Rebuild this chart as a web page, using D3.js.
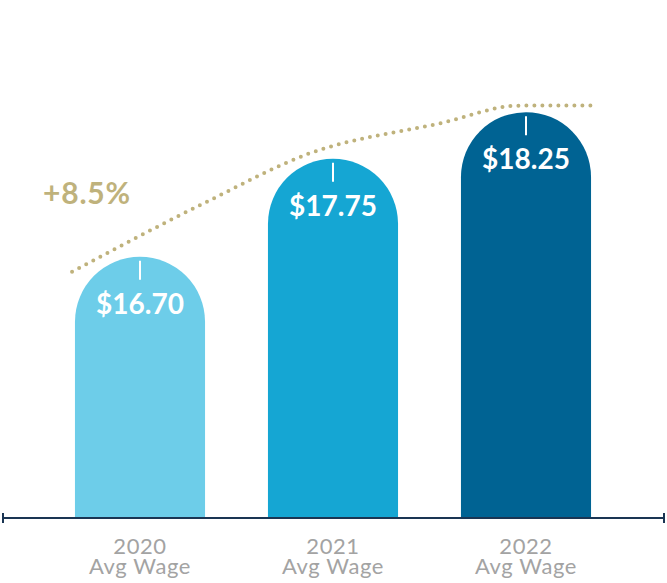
<!DOCTYPE html>
<html>
<head>
<meta charset="utf-8">
<script src="https://cdn.jsdelivr.net/npm/d3@7"></script>
<style>
  html, body { margin: 0; padding: 0; background: #fff; }
  svg { display: block; }
</style>
</head>
<body>
<svg id="chart" width="667" height="583"></svg>
<script>
// chart data
var years = ["2020", "2021", "2022"];
var wages = [16.70, 17.75, 18.25];
var barColors = ["#6dcde9", "#15a6d3", "#006393"];
var subLabel = "Avg Wage";
var growthLabel = "+8.5%";
// dotted trend line: position in category units, value in $
var trendPos = [-0.352, 0.337, 0.881, 1.554, 1.969, 2.347];
var trendVal = [16.54, 17.28, 17.81, 18.13, 18.32, 18.32];

var svg = d3.select("#chart"),
    width = +svg.attr("width"),
    height = +svg.attr("height"),
    baseY = 518;

var x = d3.scaleBand()
  .domain(years)
  .range([43.5, 622.5])
  .paddingInner(0.326)
  .paddingOuter(0.163);

// index -> centre of band
var xPos = d3.scaleLinear()
  .domain([0, 2])
  .range([x(years[0]) + x.bandwidth() / 2, x(years[2]) + x.bandwidth() / 2]);

var y = d3.scaleLinear()
  .domain([13.9, 19])
  .range([baseY, baseY - 5.1 * 93.3]);

var r = x.bandwidth() / 2;

function barPath(d, i) {
  var x0 = x(years[i]), x1 = x0 + x.bandwidth(), top = y(d);
  return "M" + x0 + "," + baseY +
    "V" + (top + r) +
    "A" + r + "," + r + " 0 0 1 " + x1 + "," + (top + r) +
    "V" + baseY + "Z";
}

svg.selectAll("path.bar")
  .data(wages).enter()
  .append("path")
  .attr("class", "bar")
  .attr("d", barPath)
  .attr("fill", function(d, i) { return barColors[i]; });

// small white tick at top of each bar
svg.selectAll("line.cap")
  .data(wages).enter()
  .append("line")
  .attr("x1", function(d, i) { return xPos(i); })
  .attr("x2", function(d, i) { return xPos(i); })
  .attr("y1", function(d) { return y(d) + 4; })
  .attr("y2", function(d) { return y(d) + 23; })
  .attr("stroke", "#fff")
  .attr("stroke-width", 2);

svg.selectAll("text.value")
  .data(wages).enter()
  .append("text")
  .attr("x", function(d, i) { return xPos(i); })
  .attr("y", function(d) { return y(d) + 57; })
  .attr("text-anchor", "middle")
  .attr("fill", "#fff")
  .attr("font-family", "Lato, sans-serif")
  .attr("font-weight", "bold")
  .attr("font-size", 28)
  .text(function(d) { return "$" + d.toFixed(2); });

// trend line
var line = d3.line()
  .x(function(d, i) { return xPos(trendPos[i]); })
  .y(function(d) { return y(d); })
  .curve(d3.curveMonotoneX);

svg.append("path")
  .datum(trendVal)
  .attr("d", line)
  .attr("fill", "none")
  .attr("stroke", "#bfb27c")
  .attr("stroke-width", 4)
  .attr("stroke-linecap", "round")
  .attr("stroke-dasharray", "0 8");

svg.append("text")
  .attr("x", 43)
  .attr("y", 204)
  .attr("fill", "#bfb27c")
  .attr("font-family", "Lato, sans-serif")
  .attr("font-weight", "bold")
  .attr("font-size", 30)
  .attr("letter-spacing", 0.8)
  .text(growthLabel);

// axis
var axis = svg.append("g").attr("transform", "translate(0," + baseY + ")");
axis.append("line")
  .attr("x1", 3).attr("x2", 664)
  .attr("stroke", "#1a3553").attr("stroke-width", 2);
[3, 664].forEach(function(px) {
  axis.append("line")
    .attr("x1", px).attr("x2", px)
    .attr("y1", -5).attr("y2", 5)
    .attr("stroke", "#1a3553").attr("stroke-width", 2);
});

var labels = svg.selectAll("g.label")
  .data(years).enter()
  .append("g")
  .attr("transform", function(d, i) { return "translate(" + xPos(i) + ",0)"; });

labels.append("text")
  .attr("y", 554)
  .attr("text-anchor", "middle")
  .attr("fill", "#a3a3a3")
  .attr("font-family", "Lato, sans-serif")
  .attr("font-size", 22)
  .attr("letter-spacing", 0.6)
  .text(function(d) { return d; });

labels.append("text")
  .attr("y", 574)
  .attr("text-anchor", "middle")
  .attr("fill", "#a3a3a3")
  .attr("font-family", "Lato, sans-serif")
  .attr("font-size", 22)
  .attr("letter-spacing", 0.6)
  .text(subLabel);
</script>
</body>
</html>
